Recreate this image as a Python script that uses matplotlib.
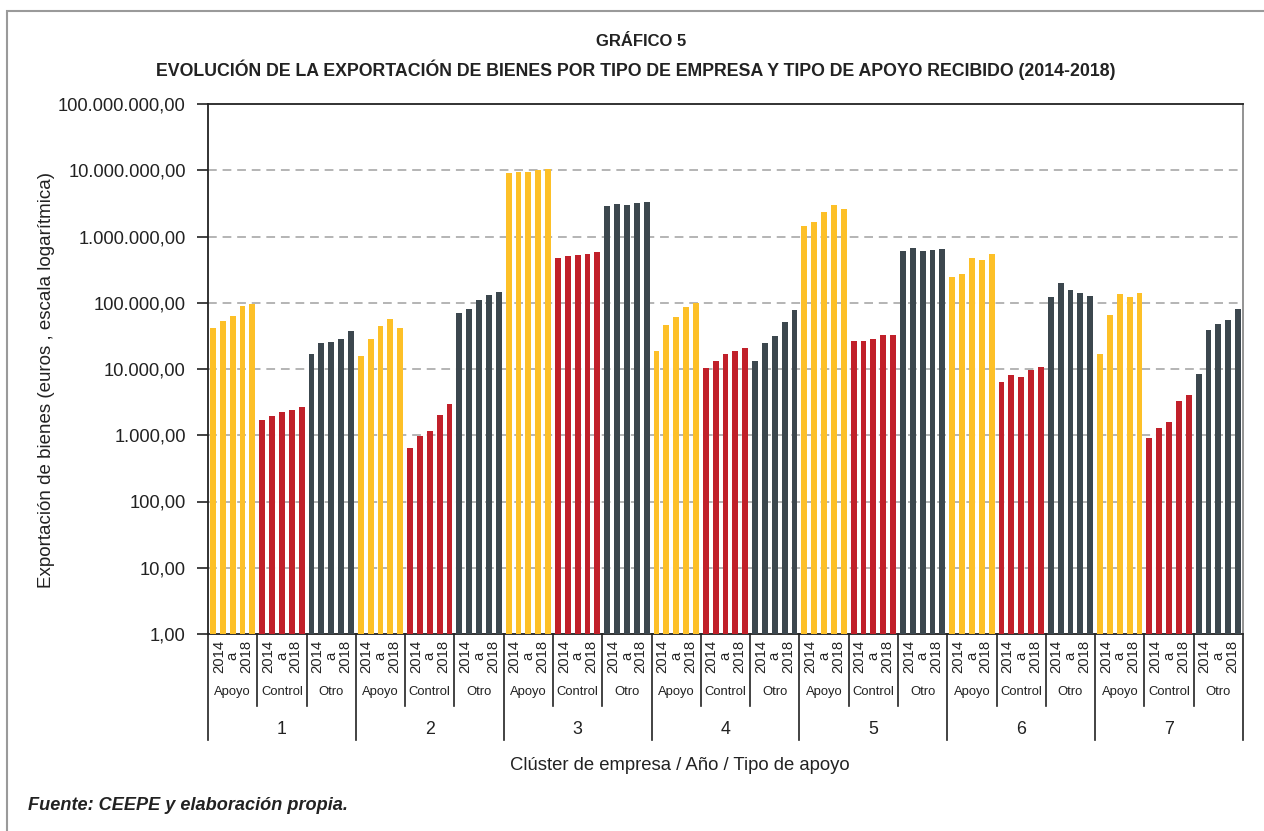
import matplotlib.pyplot as plt
import matplotlib.transforms as mtransforms
from matplotlib.patches import Rectangle
from matplotlib.lines import Line2D
from matplotlib.ticker import FixedLocator, FuncFormatter, NullLocator

plt.rcParams['font.family'] = ['Liberation Sans', 'DejaVu Sans']

clusters = ["1", "2", "3", "4", "5", "6", "7"]
tipos = ["Apoyo", "Control", "Otro"]
years = ["2014", "2015", "2016", "2017", "2018"]

# exportaciones (euros) por clúster, 2014..2018
apoyo = [
    [41900, 53100, 63200, 89400, 96300],
    [15700, 28500, 44600, 57200, 41900],
    [9190000, 9540000, 9430000, 10150000, 10540000],
    [18700, 46300, 60900, 86100, 100000],
    [1445000, 1660000, 2340000, 3010000, 2620000],
    [244000, 273000, 478000, 444000, 549000],
    [16900, 65600, 136000, 122000, 141000],
]
control = [
    [1700, 1950, 2240, 2410, 2660],
    [646, 973, 1160, 2025, 2980],
    [478000, 509000, 528000, 549000, 583000],
    [10430, 13200, 16900, 18700, 20900],
    [26500, 26500, 28500, 32700, 32700],
    [6350, 8130, 7550, 9680, 10700],
    [914, 1295, 1580, 3285, 4060],
]
otro = [
    [16900, 24900, 25500, 28500, 37500],
    [70600, 80900, 110400, 131500, 145000],
    [2900000, 3120000, 3010000, 3240000, 3320000],
    [13200, 24900, 31500, 51100, 78000],
    [605000, 677000, 605000, 628000, 652000],
    [122000, 200000, 156000, 141000, 127000],
    [8450, 38900, 48100, 55100, 80900],
]
series = {"Apoyo": apoyo, "Control": control, "Otro": otro}
colores = {"Apoyo": "#FDC028", "Control": "#C1202A", "Otro": "#3C474E"}

W, H = 1264, 831
fig = plt.figure(figsize=(W / 100, H / 100), dpi=100)
ax = fig.add_axes([208 / W, 1 - 634 / H, (1243 - 208) / W, (634 - 104) / H])

nyear = len(years)
ntipo = len(tipos)
pos = 0
for c in range(len(clusters)):
    for tipo in tipos:
        vals = series[tipo][c]
        xs = list(range(pos, pos + nyear))
        ax.bar(xs, vals, width=0.6, color=colores[tipo], zorder=3)
        pos += nyear
nbars = pos

ax.set_yscale('log')
ax.set_ylim(1, 1e8)
ax.set_xlim(-0.5, nbars - 0.5)


def fmt_es(v, _):
    s = f"{v:,.2f}"
    return s.replace(",", "X").replace(".", ",").replace("X", ".")


ax.yaxis.set_major_locator(FixedLocator([10 ** k for k in range(9)]))
ax.yaxis.set_major_formatter(FuncFormatter(fmt_es))
ax.yaxis.set_minor_locator(NullLocator())
ax.tick_params(axis='y', direction='out', length=8, width=1.2, color='#222222',
               labelsize=13.2, labelcolor='#222222', pad=8)
ax.set_xticks([])

for k in range(1, 8):
    ax.axhline(10 ** k, color='#B4B4B4', lw=1.4, ls=(0, (4.5, 3)), zorder=1)

for side in ['left', 'top', 'bottom']:
    ax.spines[side].set_color('#222222')
    ax.spines[side].set_linewidth(1.3)
ax.spines['right'].set_color('#8A8A8A')
ax.spines['right'].set_linewidth(1.3)

# etiquetas jerárquicas del eje x
trans = mtransforms.blended_transform_factory(ax.transData, ax.transAxes)
grupo = nyear
bloque = nyear * ntipo
for i in range(len(clusters) * ntipo + 1):
    xb = i * grupo - 0.5
    bajo = -0.2 if i % ntipo == 0 else -0.136
    ax.add_line(Line2D([xb, xb], [0, bajo], transform=trans, color='#222222',
                       lw=1.2, clip_on=False))

for c, nombre in enumerate(clusters):
    for t, tipo in enumerate(tipos):
        x0 = c * bloque + t * grupo
        xc = x0 + (grupo - 1) / 2
        ax.text(xc, -0.0415, f"{years[0]}\na\n{years[-1]}", transform=trans,
                rotation=90, ha='center', va='center', multialignment='center',
                fontsize=10.7, linespacing=0.98, color='#222222')
        ax.text(xc, -0.109, tipo, transform=trans, ha='center', va='center',
                fontsize=9.4, color='#222222')
    ax.text(c * bloque + (bloque - 1) / 2, -0.181, nombre, transform=trans,
            ha='center', va='center', fontsize=12.8, color='#222222')

fig.text(680 / W, 1 - 766 / H, "Clúster de empresa / Año / Tipo de apoyo",
         ha='center', va='center', fontsize=13.3, color='#222222')

fig.text(47 / W, 1 - 380 / H, "Exportación de bienes (euros , escala logarítmica)",
         rotation=90, ha='center', va='center', fontsize=13.5, color='#222222')

titulo_fuente = ['Liberation Sans Narrow', 'Liberation Sans', 'DejaVu Sans']
fig.text(641 / W, 1 - 42 / H, "GRÁFICO 5", ha='center', va='center',
         fontsize=12, fontweight='bold', family=titulo_fuente, color='#222222')
fig.text(636 / W, 1 - 70 / H,
         "EVOLUCIÓN DE LA EXPORTACIÓN DE BIENES POR TIPO DE EMPRESA Y TIPO DE APOYO RECIBIDO (2014-2018)",
         ha='center', va='center', fontsize=12.8, fontweight='bold',
         family=titulo_fuente, color='#222222')

fig.text(28 / W, 1 - 805 / H, "Fuente: CEEPE y elaboración propia.",
         ha='left', va='center', fontsize=13.1, fontweight='bold', style='italic',
         color='#222222')

# marco exterior
fig.patches.append(Rectangle((7 / W, -0.1), 1.2, 1.1 - 11 / H, transform=fig.transFigure,
                             fill=False, edgecolor='#9A9A9A', lw=1.5))

fig.savefig("out.png", dpi=100)
